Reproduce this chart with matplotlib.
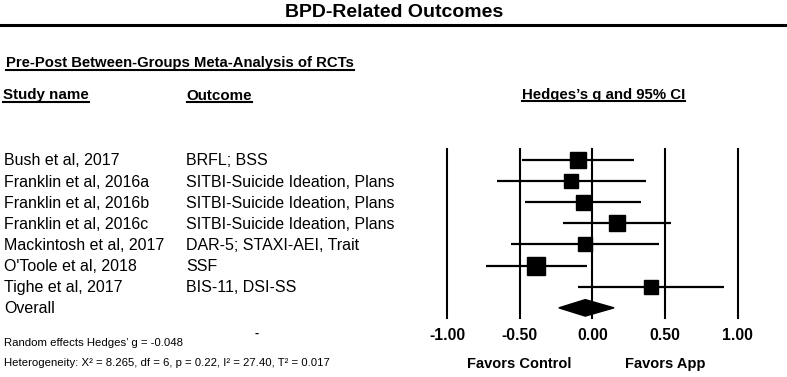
import matplotlib
matplotlib.use("Agg")
import matplotlib.pyplot as plt
from matplotlib.transforms import blended_transform_factory, offset_copy
from matplotlib.lines import Line2D
from matplotlib.patches import Polygon

plt.rcParams['font.family'] = ['Liberation Sans', 'DejaVu Sans']

# ---------------- data ----------------
studies = ["Bush et al, 2017", "Franklin et al, 2016a", "Franklin et al, 2016b",
           "Franklin et al, 2016c", "Mackintosh et al, 2017", "O'Toole et al, 2018",
           "Tighe et al, 2017"]
outcomes = ["BRFL; BSS", "SITBI-Suicide Ideation, Plans", "SITBI-Suicide Ideation, Plans",
            "SITBI-Suicide Ideation, Plans", "DAR-5; STAXI-AEI, Trait", "SSF", "BIS-11, DSI-SS"]
g_vals = [-0.10, -0.145, -0.067, 0.170, -0.05, -0.386, 0.405]
ci_low = [-0.485, -0.657, -0.462, -0.202, -0.561, -0.733, -0.097]
ci_high = [0.285, 0.370, 0.336, 0.545, 0.460, -0.037, 0.908]
weights = [16.3, 13.7, 15.0, 16.0, 14.0, 17.7, 13.3]   # relative study weights
overall_label = "Overall"
overall_g = -0.048
overall_low = -0.23
overall_high = 0.15
tick_vals = [-1.0, -0.5, 0.0, 0.5, 1.0]
tick_labels = ["-1.00", "-0.50", "0.00", "0.50", "1.00"]
favors_left = "Favors Control"
favors_right = "Favors App"
title = "BPD-Related Outcomes"
subtitle = "Pre-Post Between-Groups Meta-Analysis of RCTs"
col_headers = ["Study name", "Outcome", "Hedges\u2019s g and 95% CI"]
footnote1 = "Random effects Hedges\u2019 g = -0.048"
footnote2 = "Heterogeneity: X\u00b2 = 8.265, df = 6, p = 0.22, I\u00b2 = 27.40, T\u00b2 = 0.017"

# ---------------- layout ----------------
W, H = 787, 377
fig = plt.figure(figsize=(W / 100, H / 100), dpi=100)

def fy(py):  # pixel-from-top -> figure fraction
    return 1 - py / H

def fx(px):
    return px / W

ax = fig.add_axes([fx(447), fy(318), fx(737.5) - fx(447), (318 - 149) / H])
ax.set_xlim(-1, 1)
n = len(studies)
ax.set_ylim(n + 0.48, -0.52)
ax.axis('off')

for t in tick_vals:
    ax.axvline(t, color='black', lw=1.5, clip_on=False)

for i in range(n):
    ax.plot([ci_low[i], ci_high[i]], [i, i], color='black', lw=1.6,
            solid_capstyle='butt', clip_on=False)
    ax.plot([g_vals[i]], [i], marker='s', color='black',
            markersize=weights[i] * 0.72, clip_on=False)

# overall diamond
yo = n
hh = 0.39
diamond = Polygon([[overall_low, yo], [overall_g, yo - hh], [overall_high, yo],
                   [overall_g, yo + hh]], closed=True, color='black', clip_on=False)
ax.add_patch(diamond)

# row labels
row_tr = blended_transform_factory(fig.transFigure, ax.transData)
row_tr = offset_copy(row_tr, fig=fig, y=-5.5, units='dots')
for i in range(n):
    fig.text(fx(4), i, studies[i], transform=row_tr, fontsize=11.5, va='baseline', ha='left')
    fig.text(fx(186), i, outcomes[i], transform=row_tr, fontsize=11.5, va='baseline', ha='left')
fig.text(fx(4), n, overall_label, transform=row_tr, fontsize=11.5, va='baseline', ha='left')

# tick labels
tick_tr = blended_transform_factory(ax.transData, fig.transFigure)
for t, lab in zip(tick_vals, tick_labels):
    fig.text(t, fy(340), lab, transform=tick_tr, fontsize=11.3, fontweight='bold',
             ha='center', va='baseline')
fig.text(-0.5, fy(368), favors_left, transform=tick_tr, fontsize=10.5, fontweight='bold',
         ha='center', va='baseline')
fig.text(0.5, fy(368), favors_right, transform=tick_tr, fontsize=10.5, fontweight='bold',
         ha='center', va='baseline')

# title and rule
fig.text(fx(394), fy(17), title, fontsize=14, fontweight='bold', ha='center', va='baseline')
fig.add_artist(Line2D([0, 1], [fy(24.5), fy(24.5)], color='black', lw=2.2,
                      transform=fig.transFigure))

# headers (underlined)
underlined = []
underlined.append(fig.text(fx(6), fy(67), subtitle, fontsize=10.7, fontweight='bold',
                           ha='left', va='baseline'))
underlined.append(fig.text(fx(3), fy(99.5), col_headers[0], fontsize=10.9, fontweight='bold',
                           ha='left', va='baseline'))
underlined.append(fig.text(fx(186.5), fy(99.5), col_headers[1], fontsize=10.9, fontweight='bold',
                           ha='left', va='baseline'))
underlined.append(fig.text(fx(522), fy(98.5), col_headers[2], fontsize=10.8, fontweight='bold',
                           ha='left', va='baseline'))

# footnotes
fig.text(fx(4), fy(346), footnote1, fontsize=8.2, ha='left', va='baseline')
fig.text(fx(4), fy(366), footnote2, fontsize=8.2, ha='left', va='baseline')
fig.text(fx(256.5), fy(337), "-", fontsize=9, fontweight='bold', ha='center', va='baseline')

fig.canvas.draw()
r = fig.canvas.get_renderer()
for t in underlined:
    bb = t.get_window_extent(r)
    base_y = t.get_position()[1] * H
    uy = (base_y - 2.6) / H
    fig.add_artist(Line2D([bb.x0 / W, bb.x1 / W], [uy, uy], color='black', lw=1.5,
                          transform=fig.transFigure))

fig.savefig("out.png", dpi=100)
